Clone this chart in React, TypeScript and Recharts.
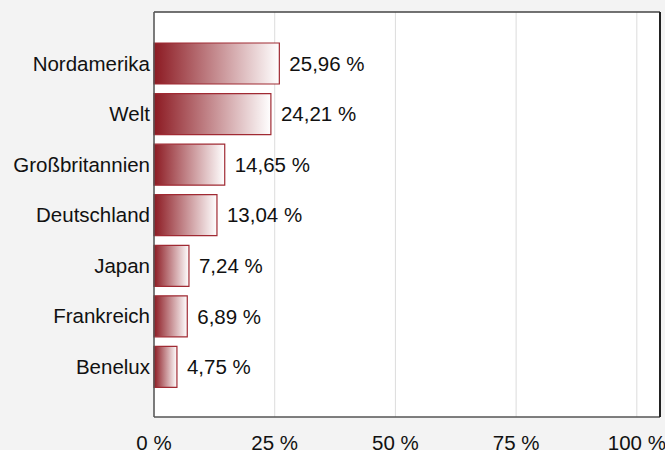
import React from "react";
import { BarChart, Bar, XAxis, YAxis, CartesianGrid, LabelList } from "recharts";

const regions = ["Nordamerika", "Welt", "Großbritannien", "Deutschland", "Japan", "Frankreich", "Benelux"];
const shares = [25.96, 24.21, 14.65, 13.04, 7.24, 6.89, 4.75];
const xTicks = [0, 25, 50, 75, 100];

const data = regions.map((name, i) => ({ name, value: shares[i] }));

const fmt = (v: number) => v.toFixed(2).replace(".", ",") + " %";
const FONT = "'Liberation Sans', Arial, sans-serif";

export default function App() {
  return (
    <div style={{ position: "fixed", left: 0, top: 0, width: 665, height: 450, background: "#f3f3f3" }}>
      <BarChart
        width={665}
        height={450}
        data={data}
        layout="vertical"
        margin={{ top: 11, right: 4, bottom: 0, left: 0 }}
        style={{ fontFamily: FONT }}
      >
        <defs>
          <linearGradient id="barGrad" x1="0" y1="0" x2="1" y2="0">
            <stop offset="0%" stopColor="#8c1a22" />
            <stop offset="100%" stopColor="#ffffff" />
          </linearGradient>
        </defs>
        <CartesianGrid horizontal={false} vertical={true} stroke="#dcdcdc" fill="#ffffff" />
        <XAxis
          type="number"
          dataKey="value"
          domain={[0, 104.8]}
          ticks={xTicks}
          tickFormatter={(v: number) => `${v} %`}
          axisLine={{ stroke: "#555555", strokeWidth: 1.5 }}
          tickLine={false}
          tickSize={0}
          tickMargin={18}
          height={33}
          tick={{ fill: "#111111", fontSize: 20.5, fontFamily: FONT }}
          interval={0}
        />
        <XAxis
          xAxisId="top"
          orientation="top"
          type="number"
          domain={[0, 104.8]}
          height={1}
          tick={false}
          tickLine={false}
          axisLine={{ stroke: "#444444", strokeWidth: 1.5 }}
        />
        <YAxis
          type="category"
          dataKey="name"
          width={154}
          axisLine={{ stroke: "#555555", strokeWidth: 1.5 }}
          tickLine={false}
          tickSize={0}
          tickMargin={4}
          padding={{ top: 26, bottom: 25 }}
          tick={{ fill: "#111111", fontSize: 20.5, fontFamily: FONT }}
          interval={0}
        />
        <YAxis
          yAxisId="right"
          orientation="right"
          type="category"
          dataKey="name"
          width={1}
          tick={false}
          tickLine={false}
          axisLine={{ stroke: "#222222", strokeWidth: 2 }}
        />
        <Bar
          dataKey="value"
          fill="url(#barGrad)"
          stroke="#a02a33"
          strokeWidth={1.2}
          barSize={41}
          isAnimationActive={false}
        >
          <LabelList
            dataKey="value"
            position="right"
            offset={10}
            formatter={(v: number) => fmt(v)}
            style={{ fill: "#111111", fontSize: 20.5, fontFamily: FONT }}
          />
        </Bar>
      </BarChart>
    </div>
  );
}
